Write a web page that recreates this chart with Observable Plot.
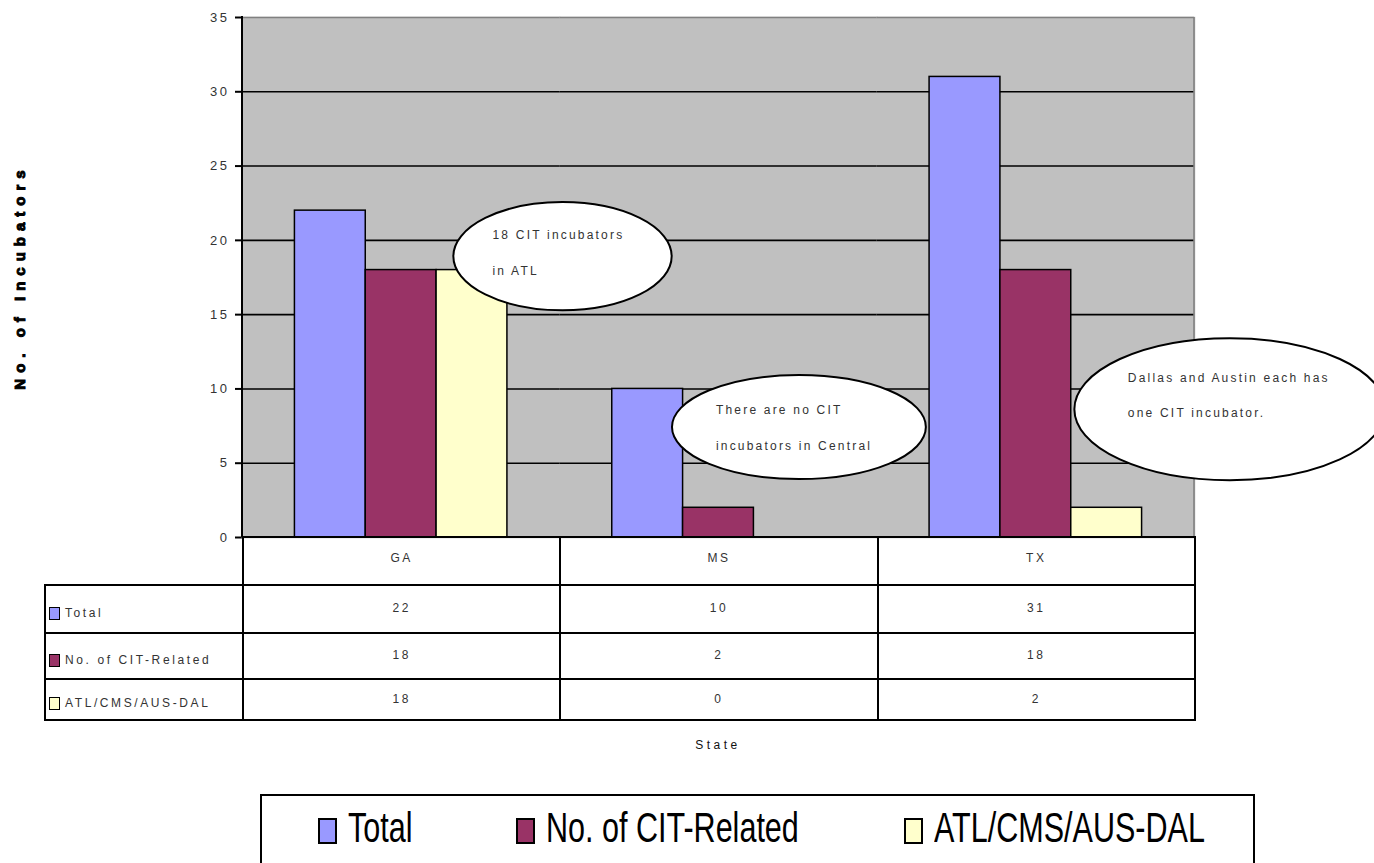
<!DOCTYPE html>
<html><head><meta charset="utf-8">
<script src="https://cdn.jsdelivr.net/npm/d3@7"></script>
<script src="https://cdn.jsdelivr.net/npm/@observablehq/plot@0.6"></script>
<style>
html,body{margin:0;padding:0;background:#fff;}
#wrap{position:relative;width:1374px;height:863px;overflow:hidden;font-family:"Liberation Sans Narrow","Arial Narrow","Liberation Sans",Arial,sans-serif;}
#wrap svg{position:absolute;left:0;top:0;}
#wrap svg [aria-label="y-axis tick"] path{stroke:#000;stroke-width:2px;}
#wrap svg [aria-label="y-axis tick label"] text{fill:#333;}
table.dt{position:absolute;border-collapse:collapse;table-layout:fixed;font-size:12px;letter-spacing:2.6px;color:#333;}
table.dt td{border:2px solid #000;padding:0;text-align:center;white-space:nowrap;}
table.dt td.lab{text-align:left;padding-left:3px;padding-top:7px;}
table.dt td.val{padding-bottom:2px;}
table.dt td.cat{padding-bottom:6px;}
table.dt td.blank{border-left:none;border-top:none;}
.sw{display:inline-block;box-sizing:border-box;width:11px;height:13px;border:1.6px solid #000;vertical-align:-3px;margin-right:5px;}
.xtitle{position:absolute;font-size:12px;letter-spacing:3.5px;color:#111;transform:translateX(-50%);}
.legend{position:absolute;box-sizing:border-box;border:2px solid #000;}
.legend .it{position:absolute;top:22px;white-space:nowrap;height:30px;}
.legend .lsw{position:absolute;left:0;top:0;box-sizing:border-box;width:19px;height:26px;border:2px solid #000;}
.legend .ltx{position:absolute;left:30px;top:-12px;font-family:"Liberation Sans",Arial,sans-serif;font-size:43px;line-height:1;color:#000;transform:scaleX(0.71);transform-origin:0 0;}
</style>
</head><body><div id="wrap"></div>
<script>
// ---- data ----
const states = ["GA", "MS", "TX"];
const seriesNames = ["Total", "No. of CIT-Related", "ATL/CMS/AUS-DAL"];
const totalValues = [22, 10, 31];
const citValues = [18, 2, 18];
const atlValues = [18, 0, 2];
const seriesColors = ["#9999ff", "#993366", "#ffffcc"];
const yTicks = [0, 5, 10, 15, 20, 25, 30, 35];
const yTitle = "No. of Incubators";
const xTitle = "State";
const noteTexts = [
  ["18 CIT incubators", "in ATL"],
  ["There are no CIT", "incubators in Central"],
  ["Dallas and Austin each has", "one CIT incubator."]
];

const seriesValues = [totalValues, citValues, atlValues];
const data = states.flatMap((s, i) => seriesNames.map((n, j) => ({state: s, series: n, value: seriesValues[j][i]})));

// ---- annotation layout (data-space anchors) ----
const noteLayout = [
  {state: "MS", at: 0.01, y: 18.9, rx: 0.344, ry: 3.64, tx: -70, ty: [-17, 19]},
  {state: "MS", at: 0.755, y: 7.4, rx: 0.40, ry: 3.5, tx: -83, ty: [-13, 23]},
  {state: "TX", at: 1.113, y: 8.6, rx: 0.49, ry: 4.78, tx: -102, ty: [-27, 8]}
];
const legendLeft = [56, 254, 642];

const FONT = '"Liberation Sans Narrow","Arial Narrow","Liberation Sans",Arial,sans-serif';
const wrap = document.getElementById("wrap");

const plot = Plot.plot({
  width: 1374, height: 545,
  marginTop: 17, marginBottom: 8, marginLeft: 242, marginRight: 180,
  style: {fontFamily: FONT, fontSize: "13px", letterSpacing: "2.5px", background: "transparent", overflow: "visible", color: "#000"},
  fx: {domain: states, padding: 0, axis: null, round: false},
  x: {domain: seriesNames, paddingInner: 0, paddingOuter: 0.74, axis: null, round: false},
  y: {domain: [0, 35], ticks: yTicks, tickSize: 7, tickPadding: 6, label: null},
  color: {domain: seriesNames, range: seriesColors},
  marks: [
    Plot.frame({fill: "#c0c0c0", stroke: "#c0c0c0", strokeWidth: 1.5}),
    Plot.ruleY(yTicks.filter(t => t > 0 && t < 35), {stroke: "#000", strokeWidth: 1.6}),
    Plot.ruleY([35], {stroke: "#808080", strokeWidth: 1.6}),
    Plot.barY(data, {fx: "state", x: "series", y: "value", fill: "series", stroke: "#000", strokeWidth: 1.5})
  ]
});
wrap.appendChild(plot);

const svg = d3.select(plot);
const fx = plot.scale("fx"), y = plot.scale("y");
const bw = fx.bandwidth ?? (fx.range[1] - fx.range[0]) / states.length;
const x0 = fx.apply(states[0]);
const x1 = fx.apply(states[states.length - 1]) + bw;
const y0 = y.apply(0), yTop = y.apply(35);

// plot borders: right (gray), left axis (black)
svg.append("line").attr("x1", x1).attr("x2", x1).attr("y1", yTop).attr("y2", y0).attr("stroke", "#808080").attr("stroke-width", 1.6);
svg.append("line").attr("x1", x0).attr("x2", x0).attr("y1", yTop - 1).attr("y2", y0).attr("stroke", "#000").attr("stroke-width", 2);

// y title
svg.append("text")
  .attr("transform", `translate(25,${(yTop + y0) / 2}) rotate(-90)`)
  .attr("text-anchor", "middle")
  .attr("font-family", '"Liberation Sans",Arial,sans-serif')
  .attr("font-weight", "900").attr("font-size", 15).attr("letter-spacing", "6px")
  .attr("fill", "#000").attr("stroke", "#000").attr("stroke-width", 1)
  .text(yTitle);

// annotations
noteLayout.forEach((n, i) => {
  const cx = fx.apply(n.state) + n.at * bw;
  const cy = y.apply(n.y);
  const rx = n.rx * bw;
  const ry = Math.abs(y.apply(0) - y.apply(n.ry));
  const g = svg.append("g");
  g.append("ellipse").attr("cx", cx).attr("cy", cy).attr("rx", rx).attr("ry", ry)
    .attr("fill", "#fff").attr("stroke", "#000").attr("stroke-width", 2);
  noteTexts[i].forEach((line, k) => {
    g.append("text").attr("x", cx + n.tx).attr("y", cy + n.ty[k])
      .attr("text-anchor", "start")
      .attr("font-family", FONT).attr("font-size", 12).attr("letter-spacing", "2.2px").attr("fill", "#333")
      .text(line);
  });
});

// data table
const table = d3.select(wrap).append("table").attr("class", "dt")
  .style("left", "44px").style("top", (y0 - 1) + "px");
const labW = x0 - 44;
const cg = table.append("colgroup");
cg.append("col").style("width", labW + "px");
states.forEach(() => cg.append("col").style("width", bw + "px"));
table.style("width", (labW + bw * states.length) + "px");
const rowHeights = [48, 48, 46, 41];
const r0 = table.append("tr").style("height", rowHeights[0] + "px");
r0.append("td").attr("class", "blank");
states.forEach(s => r0.append("td").attr("class", "cat").text(s));
seriesNames.forEach((name, j) => {
  const tr = table.append("tr").style("height", rowHeights[j + 1] + "px");
  const td = tr.append("td").attr("class", "lab");
  td.append("span").attr("class", "sw").style("background", seriesColors[j]);
  td.append("span").text(name);
  seriesValues[j].forEach(v => tr.append("td").attr("class", "val").text(v));
});

// x title
d3.select(wrap).append("div").attr("class", "xtitle")
  .style("left", ((x0 + x1) / 2) + "px").style("top", "738px").text(xTitle);

// legend
const lg = d3.select(wrap).append("div").attr("class", "legend")
  .style("left", "260px").style("top", "794px").style("width", "995px").style("height", "72px");
seriesNames.forEach((name, j) => {
  const it = lg.append("div").attr("class", "it").style("left", legendLeft[j] + "px");
  it.append("span").attr("class", "lsw").style("background", seriesColors[j]);
  it.append("span").attr("class", "ltx").text(name);
});
</script>
</body></html>
